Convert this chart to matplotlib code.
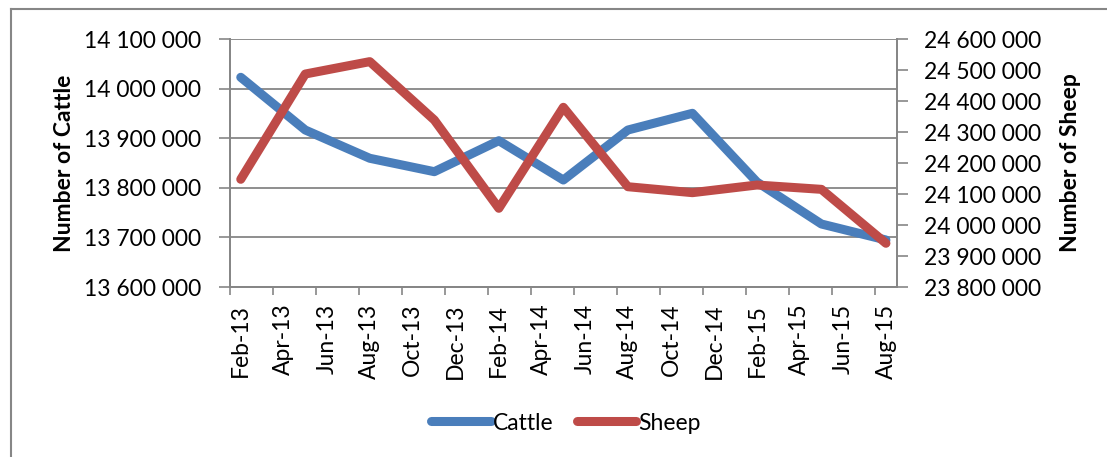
import matplotlib.pyplot as plt
from matplotlib.lines import Line2D
from datetime import datetime

# quarterly observations
obs_months = ["Feb-13", "May-13", "Aug-13", "Nov-13", "Feb-14", "May-14",
              "Aug-14", "Nov-14", "Feb-15", "May-15", "Aug-15"]
cattle = [14022800, 13916500, 13859500, 13832500, 13895000, 13815700,
          13916500, 13950200, 13811700, 13727000, 13694800]
sheep = [24147400, 24487000, 24527000, 24338700, 24053900, 24379600,
         24123500, 24104300, 24129000, 24115000, 23941000]

# axis labels every two months
tick_months = ["Feb-13", "Apr-13", "Jun-13", "Aug-13", "Oct-13", "Dec-13",
               "Feb-14", "Apr-14", "Jun-14", "Aug-14", "Oct-14", "Dec-14",
               "Feb-15", "Apr-15", "Jun-15", "Aug-15"]

blue = "#4A7EBB"
red = "#BE4B48"
grey = "#868686"
font = "Lato"
fs = 16.5


def month_index(label):
    # months counted from Feb-13, each month is one slot on the axis
    d = datetime.strptime(label, "%b-%y")
    return (d.year - 2013) * 12 + d.month - 2


x_obs = [month_index(m) + 0.5 for m in obs_months]
x_lab = [month_index(m) + 0.5 for m in tick_months]
n_slots = month_index(tick_months[-1]) + 1

plt.rcParams['font.family'] = [font, 'DejaVu Sans']

fig = plt.figure(figsize=(11.07, 4.57), dpi=100)
ax = fig.add_axes([230 / 1107, 1 - 287 / 457, (896.7 - 230) / 1107, (287 - 39) / 457])
ax2 = ax.twinx()

ax.plot(x_obs, cattle, color=blue, lw=6.5, solid_capstyle='round',
        solid_joinstyle='round', label="Cattle")
ax2.plot(x_obs, sheep, color=red, lw=6.5, solid_capstyle='round',
         solid_joinstyle='round', label="Sheep")

ax.set_xlim(0, n_slots)
ax.set_ylim(13600000, 14100000)
ax2.set_ylim(23800000, 24600000)

fmt = lambda v: f"{int(v):,}".replace(",", " ")
ax.set_yticks(range(13600000, 14100001, 100000))
ax.set_yticklabels([fmt(v) for v in range(13600000, 14100001, 100000)])
ax2.set_yticks(range(23800000, 24600001, 100000))
ax2.set_yticklabels([fmt(v) for v in range(23800000, 24600001, 100000)])

ax.set_xticks(range(0, n_slots, 2))
ax.set_xticklabels([])
ax.set_xticks(x_lab, minor=True)
ax.set_xticklabels(tick_months, minor=True, rotation=90)
ax.tick_params(axis='x', which='minor', length=0, pad=12, labelsize=fs)
ax.tick_params(axis='x', which='major', length=6, width=1.2, color=grey)
ax.tick_params(axis='y', length=8, width=1.2, color=grey, labelsize=fs, pad=13)
ax2.tick_params(axis='y', length=8, width=1.2, color=grey, labelsize=fs, pad=12)

ax.grid(axis='y', color=grey, lw=1.3)
ax.set_axisbelow(True)
for a in (ax, ax2):
    a.spines['top'].set_visible(False)
    for s in ('left', 'right', 'bottom'):
        a.spines[s].set_color(grey)
        a.spines[s].set_linewidth(1.3)

ax.set_ylabel("Number of Cattle", fontsize=fs, fontweight='bold', labelpad=6)
ax2.set_ylabel("Number of Sheep", fontsize=fs, fontweight='bold', labelpad=13)

h1, l1 = ax.get_legend_handles_labels()
h2, l2 = ax2.get_legend_handles_labels()
fig.legend(h1 + h2, l1 + l2, loc='center', bbox_to_anchor=(566 / 1107, 1 - 423 / 457),
           ncol=2, frameon=False, fontsize=fs, handlelength=2.6, handletextpad=0.1,
           columnspacing=1.0)

# chart border (left and top edges visible)
fig.add_artist(Line2D([11 / 1107, 11 / 1107], [0, 1 - 9 / 457], color=grey, lw=1.5))
fig.add_artist(Line2D([11 / 1107, 1], [1 - 9 / 457, 1 - 9 / 457], color=grey, lw=1.5))

fig.savefig("out.png", dpi=100)
